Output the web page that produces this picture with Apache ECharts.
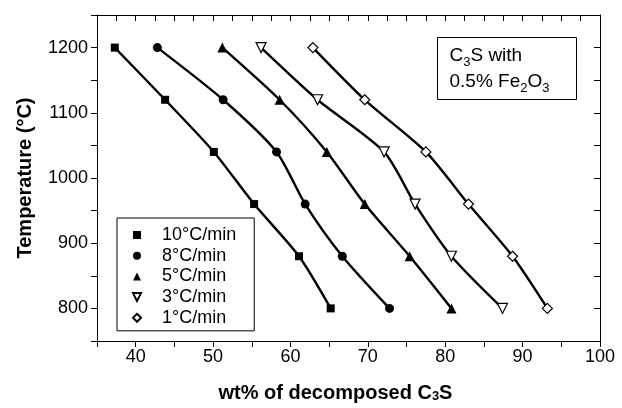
<!DOCTYPE html>
<html>
<head>
    <meta charset="utf-8">
    <title>C3S decomposition</title>
    <script src="https://cdn.jsdelivr.net/npm/echarts@6/dist/echarts.min.js"></script>
    <style>
        html, body { margin: 0; padding: 0; background: #fff; }
    </style>
</head>
<body>
    <div id="main" style="width: 622px;height:408px;"></div>

    <script type="text/javascript">
        // temperatures (°C) shared by all heating rates
        var temps = [1200, 1120, 1040, 960, 880, 800];

        // wt% of decomposed C3S, one array per heating rate
        var rate10 = [37.3, 43.8, 50.1, 55.3, 61.1, 65.2];
        var rate8 = [42.8, 51.3, 58.2, 61.9, 66.7, 72.8];
        var rate5 = [51.2, 58.6, 64.7, 69.6, 75.4, 80.8];
        var rate3 = [56.2, 63.5, 72.1, 76.1, 80.8, 87.4];
        var rate1 = [62.9, 69.6, 77.5, 83.0, 88.7, 93.2];

        var names = ['10°C/min', '8°C/min', '5°C/min', '3°C/min', '1°C/min'];

        var FONT = '"Liberation Sans", Arial, Helvetica, sans-serif';

        function pairs(xs) {
            var out = [];
            for (var i = 0; i < xs.length; i++) {
                out.push([xs[i], temps[i]]);
            }
            return out;
        }

        function makeSeries(name, xs, symbol, size, hollow, rotate) {
            return {
                name: name,
                type: 'line',
                xAxisIndex: 0,
                yAxisIndex: 0,
                smooth: 0.25,
                symbol: symbol,
                symbolSize: size,
                symbolRotate: rotate || 0,
                showAllSymbol: true,
                lineStyle: { color: '#000', width: 2.4 },
                itemStyle: hollow
                    ? { color: '#fff', borderColor: '#000', borderWidth: 1.2 }
                    : { color: '#000', borderColor: '#000', borderWidth: 0 },
                emphasis: { disabled: true },
                data: pairs(xs)
            };
        }

        var myChart = echarts.init(document.getElementById('main'));

        var option = {
            animation: false,
            backgroundColor: '#fff',
            textStyle: { fontFamily: FONT, color: '#000' },
            grid: { left: 97, right: 22, top: 15, bottom: 66 },
            legend: {
                orient: 'vertical',
                left: 117,
                top: 218,
                data: names,
                itemWidth: 40,
                itemHeight: 10,
                itemGap: 0.7,
                padding: [7, 18, 3, 0],
                borderColor: '#000',
                borderWidth: 1,
                backgroundColor: '#fff',
                lineStyle: { width: 0, opacity: 0 },
                selectedMode: false,
                textStyle: { fontFamily: FONT, fontSize: 18, lineHeight: 20, color: '#000' }
            },
            xAxis: [{
                type: 'value',
                position: 'bottom',
                min: 35,
                max: 100,
                interval: 5,
                name: 'wt% of decomposed C{sub|3}S',
                nameLocation: 'middle',
                nameGap: 42,
                nameTextStyle: {
                    fontFamily: FONT,
                    fontSize: 20,
                    fontWeight: 'bold',
                    color: '#000',
                    padding: [0, 26, 0, 0],
                    rich: {
                        sub: { fontFamily: FONT, fontSize: 13, fontWeight: 'bold', color: '#000', verticalAlign: 'bottom', padding: [6, 0, 0, 0] }
                    }
                },
                axisLine: { lineStyle: { color: '#000', width: 1 } },
                axisTick: { inside: false, length: 6, lineStyle: { color: '#000' } },
                axisLabel: {
                    margin: 7,
                    fontFamily: FONT,
                    fontSize: 18,
                    color: '#000',
                    formatter: function (v) { return v % 10 === 0 ? String(v) : ''; }
                },
                splitLine: { show: false }
            }, {
                type: 'value',
                position: 'top',
                min: 35,
                max: 100,
                interval: 2.5,
                axisLine: { lineStyle: { color: '#000', width: 1 } },
                axisTick: { inside: true, length: 6, lineStyle: { color: '#000' } },
                axisLabel: { show: false },
                splitLine: { show: false }
            }],
            yAxis: [{
                type: 'value',
                position: 'left',
                min: 750,
                max: 1250,
                interval: 50,
                name: 'Temperature (°C)',
                nameLocation: 'middle',
                nameGap: 62,
                nameTextStyle: { fontFamily: FONT, fontSize: 20, fontWeight: 'bold', color: '#000' },
                axisLine: { lineStyle: { color: '#000', width: 1 } },
                axisTick: { inside: false, length: 6, lineStyle: { color: '#000' } },
                axisLabel: {
                    margin: 9,
                    fontFamily: FONT,
                    fontSize: 18,
                    color: '#000',
                    formatter: function (v) { return v % 100 === 0 ? String(v) : ''; }
                },
                splitLine: { show: false }
            }, {
                type: 'value',
                position: 'right',
                min: 750,
                max: 1250,
                interval: 50,
                axisLine: { lineStyle: { color: '#000', width: 1 } },
                axisTick: { inside: true, length: 6, lineStyle: { color: '#000' } },
                axisLabel: { show: false },
                splitLine: { show: false }
            }],
            graphic: [{
                type: 'group',
                left: 437,
                top: 37,
                children: [{
                    type: 'rect',
                    shape: { x: 0, y: 0, width: 139, height: 62 },
                    style: { fill: '#fff', stroke: '#000', lineWidth: 1 }
                }, {
                    type: 'text',
                    x: 12,
                    y: 5,
                    style: {
                        text: '{n|C}{s|3}{n|S with}\n{n|0.5% Fe}{s|2}{n|O}{s|3}',
                        fill: '#000',
                        rich: {
                            n: { fontFamily: FONT, fontSize: 19, lineHeight: 26, fill: '#000' },
                            s: { fontFamily: FONT, fontSize: 13, lineHeight: 26, fill: '#000', verticalAlign: 'bottom', padding: [5, 0, 0, 0] }
                        }
                    }
                }]
            }],
            series: [
                makeSeries(names[0], rate10, 'rect', 8, false),
                makeSeries(names[1], rate8, 'circle', 9, false),
                makeSeries(names[2], rate5, 'triangle', 10, false),
                makeSeries(names[3], rate3, 'triangle', 10, true, 180),
                makeSeries(names[4], rate1, 'diamond', 10, true)
            ]
        };

        myChart.setOption(option);
    </script>
</body>
</html>
